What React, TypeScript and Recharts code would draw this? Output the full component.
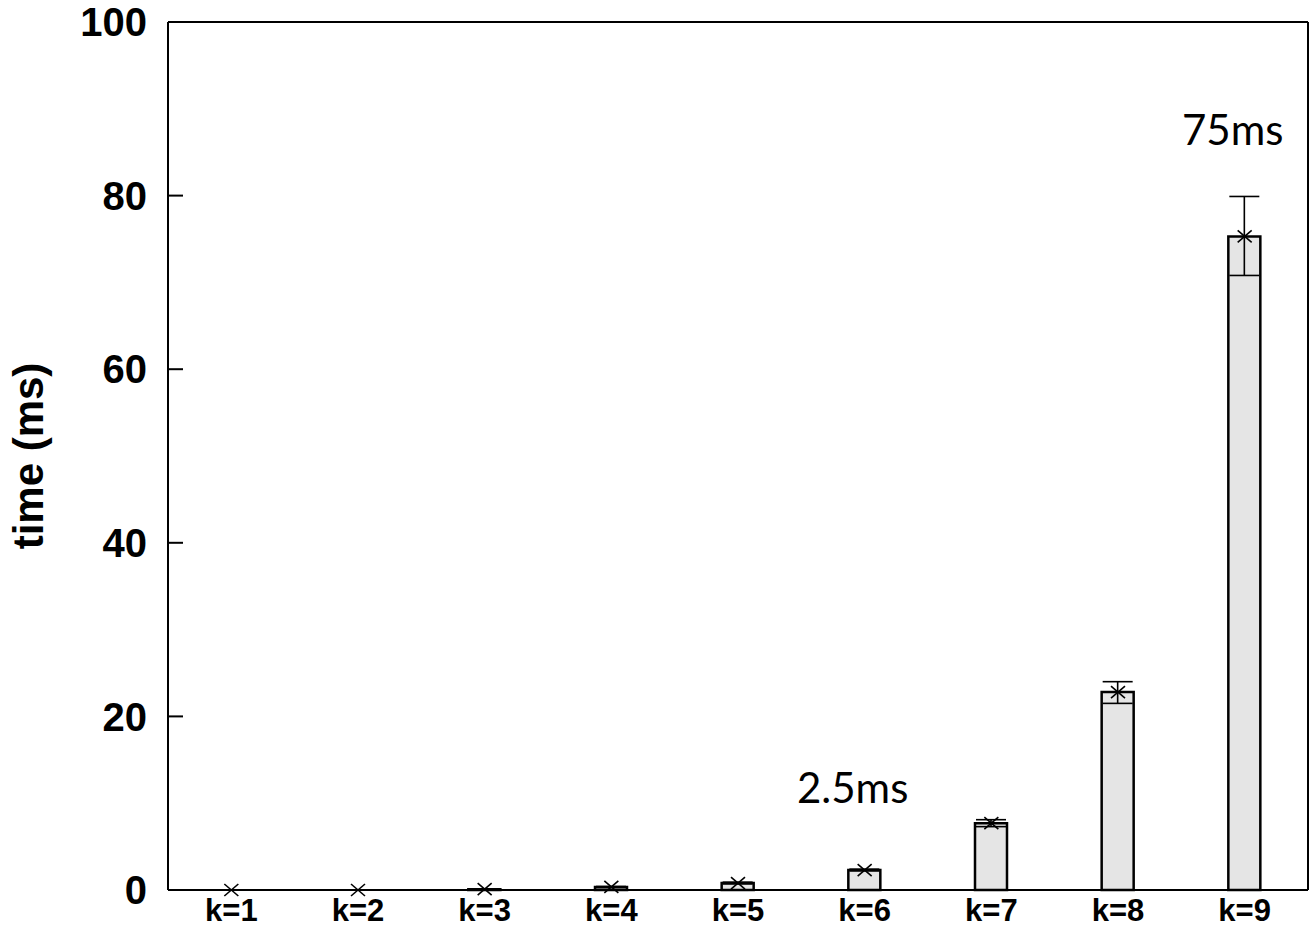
import { ComposedChart, Bar, Line, ErrorBar, XAxis, YAxis, ReferenceDot } from 'recharts';

const categories = ['k=1', 'k=2', 'k=3', 'k=4', 'k=5', 'k=6', 'k=7', 'k=8', 'k=9'];
const meanTime = [0, 0, 0.1, 0.35, 0.8, 2.3, 7.7, 22.8, 75.3];
const lowTime = [0, 0, 0.1, 0.3, 0.7, 2.2, 7.3, 21.5, 70.8];
const highTime = [0, 0, 0.1, 0.4, 0.9, 2.4, 8.1, 24.0, 79.9];
const yTicks = [0, 20, 40, 60, 80, 100];
const notes = [
  { k: 'k=6', at: 11.75, text: '2.5ms' },
  { k: 'k=9', at: 87.6, text: '75ms' },
];

const data = categories.map((k, i) => ({
  k,
  mean: meanTime[i],
  err: [meanTime[i] - lowTime[i], highTime[i] - meanTime[i]],
}));

const tickFont = { fontFamily: 'Liberation Sans, Arial, sans-serif', fontWeight: 700, fill: '#000' };
const frame = { stroke: '#000', strokeWidth: 2 };
const LABEL_GAP = 21;
const TICK_LEN = 15;

// left ticks: label plus an inward tick mark
const LeftTick = ({ x, y, payload }: any) => (
  <g>
    <line x1={x + LABEL_GAP} x2={x + LABEL_GAP + TICK_LEN} y1={y} y2={y} stroke="#000" strokeWidth={2} />
    <text x={x} y={y} dy="0.355em" textAnchor="end" fontSize={40} {...tickFont}>
      {payload.value}
    </text>
  </g>
);

const RightTick = ({ x, y }: any) => (
  <line x1={x - TICK_LEN} x2={x} y1={y} y2={y} stroke="#000" strokeWidth={2} />
);

const Cross = (props: any) => {
  const { cx, cy } = props;
  if (cx == null || cy == null) return null;
  return (
    <g stroke="#000" strokeWidth={1.6}>
      <line x1={cx - 7} y1={cy - 6} x2={cx + 7} y2={cy + 6} />
      <line x1={cx - 7} y1={cy + 6} x2={cx + 7} y2={cy - 6} />
    </g>
  );
};

const AxisTitle = ({ viewBox }: any) => {
  const x = viewBox.x + 43;
  const y = viewBox.y + viewBox.height / 2;
  return (
    <text x={x} y={y} transform={`rotate(-90, ${x}, ${y})`} textAnchor="middle" fontSize={42} {...tickFont}>
      time (ms)
    </text>
  );
};

const NoteLabel = ({ viewBox, value }: any) => {
  const x = viewBox.x + viewBox.width / 2 - 12;
  const y = viewBox.y + viewBox.height / 2;
  return (
    <text x={x} y={y + 15} textAnchor="middle" fontSize={42} fontFamily="Lato, sans-serif" fill="#000">
      {value}
    </text>
  );
};

export default function App() {
  return (
    <div style={{ position: 'absolute', left: 0, top: 0, background: '#fff' }}>
      <ComposedChart width={1315} height={930} data={data} margin={{ top: 21, right: 6, left: 0, bottom: 0 }}>
        <XAxis
          dataKey="k"
          height={40}
          tickLine={false}
          tickSize={0}
          tickMargin={9}
          axisLine={frame}
          tick={{ ...tickFont, fontSize: 31 }}
        />
        <XAxis xAxisId="top" dataKey="k" orientation="top" height={1} tick={false} tickLine={false} axisLine={frame} />
        <YAxis
          width={168}
          domain={[0, 100]}
          ticks={yTicks}
          tickSize={0}
          tickMargin={LABEL_GAP}
          tickLine={false}
          axisLine={frame}
          tick={<LeftTick />}
          label={<AxisTitle />}
        />
        <YAxis
          yAxisId="right"
          orientation="right"
          width={1}
          domain={[0, 100]}
          ticks={yTicks}
          tickSize={0}
          tickMargin={0}
          tickLine={false}
          tick={<RightTick />}
          axisLine={frame}
        />
        <Bar dataKey="mean" barSize={32} fill="#e5e5e5" stroke="#000" strokeWidth={2.5} isAnimationActive={false}>
          <ErrorBar dataKey="err" width={15} stroke="#000" strokeWidth={1.6} isAnimationActive={false} />
        </Bar>
        <Line dataKey="mean" stroke="none" dot={<Cross />} activeDot={false} isAnimationActive={false} />
        {notes.map((n) => (
          <ReferenceDot
            key={n.k}
            x={n.k}
            y={n.at}
            r={0}
            fill="none"
            stroke="none"
            label={<NoteLabel value={n.text} />}
          />
        ))}
      </ComposedChart>
    </div>
  );
}
